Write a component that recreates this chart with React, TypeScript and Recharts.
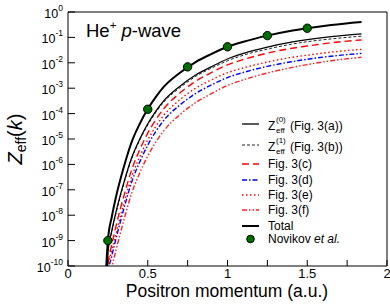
import React from 'react';
import { ComposedChart, Line, Scatter, XAxis, YAxis, Legend } from 'recharts';

const FONT = '"Liberation Sans", Arial, Helvetica, sans-serif';

// Positron momentum grid (a.u.)
const momentum = [0.235, 0.25, 0.275, 0.3, 0.35, 0.4, 0.45, 0.5, 0.55, 0.6, 0.7, 0.8, 0.9, 1.0, 1.1, 1.25, 1.4, 1.5, 1.65, 1.84];

// log10 Zeff(k)
const totalLog = [-10.6, -9.0, -8.05, -7.3, -6.1, -5.1, -4.4, -3.82, -3.35, -2.95, -2.4, -1.97, -1.65, -1.37, -1.17, -0.93, -0.74, -0.64, -0.51, -0.39];
const zeff0Log = [-11.1, -9.5, -8.6, -7.9, -6.72, -5.72, -5.0, -4.4, -3.91, -3.5, -2.93, -2.48, -2.15, -1.85, -1.63, -1.38, -1.19, -1.09, -0.97, -0.86];
const zeff1Log = [-11.15, -9.55, -8.65, -7.95, -6.77, -5.77, -5.05, -4.45, -3.96, -3.55, -2.99, -2.54, -2.21, -1.92, -1.7, -1.46, -1.27, -1.17, -1.06, -0.95];
const fig3cLog = [-11.6, -10.0, -9.15, -8.45, -7.25, -6.2, -5.42, -4.77, -4.25, -3.81, -3.2, -2.73, -2.38, -2.08, -1.87, -1.62, -1.43, -1.34, -1.21, -1.10];
const fig3dLog = [-12.0, -10.4, -9.6, -8.95, -7.75, -6.68, -5.9, -5.24, -4.71, -4.27, -3.67, -3.21, -2.87, -2.58, -2.38, -2.14, -1.96, -1.86, -1.74, -1.63];
const fig3eLog = [-11.8, -10.2, -9.4, -8.75, -7.55, -6.48, -5.7, -5.04, -4.51, -4.07, -3.46, -3.0, -2.67, -2.39, -2.2, -1.97, -1.79, -1.7, -1.58, -1.47];
const fig3fLog = [-12.4, -10.8, -10.05, -9.4, -8.2, -7.12, -6.33, -5.67, -5.13, -4.68, -4.05, -3.57, -3.21, -2.89, -2.67, -2.4, -2.19, -2.07, -1.92, -1.78];

// Novikov et al. points
const novikovK = [0.25, 0.5, 0.75, 1.0, 1.25, 1.5];
const novikovLog = [-9.0, -3.83, -2.16, -1.37, -0.93, -0.64];

const xTicks = [0, 0.25, 0.5, 0.75, 1, 1.25, 1.5, 1.75, 2];
const yMajorTicks = [1, 1e-1, 1e-2, 1e-3, 1e-4, 1e-5, 1e-6, 1e-7, 1e-8, 1e-9, 1e-10];
const yMinorTicks = [2e-1, 2e-2, 2e-3, 2e-4, 2e-5, 2e-6, 2e-7, 2e-8, 2e-9, 2e-10];

type SeriesDef = { key: string; stroke: string; width: number; dash?: string; values: number[] };

const seriesDefs: SeriesDef[] = [
  { key: 'f', stroke: '#ff2020', width: 1.4, dash: '5 2 1.5 2 1.5 2', values: fig3fLog },
  { key: 'd', stroke: '#0000ff', width: 1.4, dash: '5 2 1.5 2', values: fig3dLog },
  { key: 'e', stroke: '#ff0000', width: 1.4, dash: '1.5 2.5', values: fig3eLog },
  { key: 'c', stroke: '#ff0000', width: 1.4, dash: '7 4', values: fig3cLog },
  { key: 'z1', stroke: '#222222', width: 1, dash: '3 2', values: zeff1Log },
  { key: 'z0', stroke: '#000000', width: 1.3, values: zeff0Log },
  { key: 'total', stroke: '#000000', width: 2, values: totalLog },
];

const tableData = momentum.map((k, i) => {
  const row: Record<string, number> = { k };
  seriesDefs.forEach((s) => {
    row[s.key] = Math.pow(10, s.values[i]);
  });
  return row;
});

const novikovData = novikovK.map((k, i) => ({ k, v: Math.pow(10, novikovLog[i]) }));

const seriesByKey = (key: string) => seriesDefs.find((s) => s.key === key)!;

const legendRows = [
  { key: 'z0', y: 124, zeff: '(0)', text: '(Fig. 3(a))' },
  { key: 'z1', y: 145, zeff: '(1)', text: '(Fig. 3(b))' },
  { key: 'c', y: 164, text: 'Fig. 3(c)' },
  { key: 'd', y: 180, text: 'Fig. 3(d)' },
  { key: 'e', y: 195, text: 'Fig. 3(e)' },
  { key: 'f', y: 210, text: 'Fig. 3(f)' },
  { key: 'total', y: 226, text: 'Total' },
  { key: 'novikov', y: 239, text: 'Novikov' },
];

const LegendContent = () => (
  <svg width={390} height={305} style={{ position: 'absolute', left: 0, top: 0 }}>
    {legendRows.map((r) => {
      if (r.key === 'novikov') {
        return (
          <g key={r.key}>
            <circle cx={250.5} cy={r.y} r={3.8} fill="#006e00" stroke="#000" strokeWidth={1} />
            <text x={268} y={r.y + 4} fontSize={12} fontFamily={FONT} fill="#000">
              Novikov <tspan fontStyle="italic">et al.</tspan>
            </text>
          </g>
        );
      }
      const s = seriesByKey(r.key);
      return (
        <g key={r.key}>
          <line x1={242} x2={259} y1={r.y} y2={r.y} stroke={s.stroke} strokeWidth={s.width} strokeDasharray={s.dash} />
          {r.zeff ? (
            <text x={268} y={r.y + 6} fontSize={12} fontFamily={FONT} fill="#000">
              Z
              <tspan x={276} dy={3} fontSize={8}>eff</tspan>
              <tspan x={276} dy={-11} fontSize={8}>{r.zeff}</tspan>
              <tspan x={290} dy={8}>{r.text}</tspan>
            </text>
          ) : (
            <text x={268} y={r.y + 4} fontSize={12} fontFamily={FONT} fill="#000">
              {r.text}
            </text>
          )}
        </g>
      );
    })}
  </svg>
);

const YTick = (props: any) => {
  const { x, y, payload } = props;
  const exp = Math.round(Math.log10(payload.value));
  return (
    <text x={x} y={y + 6} textAnchor="end" fontSize={12.5} fontFamily={FONT} fill="#000">
      10
      <tspan fontSize={8.5} dy={-7}>{String(exp)}</tspan>
    </text>
  );
};

const xFormat = (v: number) => ((v * 2) % 1 === 0 ? String(v) : '');

export default function App() {
  return (
    <div style={{ position: 'absolute', left: 0, top: 0 }}>
      <ComposedChart
        width={390}
        height={305}
        data={tableData}
        margin={{ top: 11, right: 2, bottom: 0, left: 0 }}
        style={{ fontFamily: FONT }}
      >
        <XAxis
          xAxisId={0}
          dataKey="k"
          type="number"
          domain={[0, 2]}
          ticks={xTicks}
          interval={0}
          allowDataOverflow
          height={39}
          tickSize={-6}
          tickMargin={9}
          tickFormatter={xFormat}
          stroke="#000"
          tick={{ fontSize: 13, fill: '#000', fontFamily: FONT }}
        />
        <XAxis
          xAxisId="top"
          orientation="top"
          dataKey="k"
          type="number"
          domain={[0, 2]}
          ticks={xTicks}
          interval={0}
          allowDataOverflow
          height={1}
          tickSize={-6}
          tick={false}
          stroke="#000"
        />
        <YAxis
          yAxisId={0}
          type="number"
          scale="log"
          domain={[1e-10, 1]}
          allowDataOverflow
          ticks={yMajorTicks}
          interval={0}
          width={68}
          tickSize={-7}
          tickMargin={12}
          tick={<YTick />}
          stroke="#000"
        />
        <YAxis
          yAxisId="leftMinor"
          type="number"
          scale="log"
          domain={[1e-10, 1]}
          allowDataOverflow
          ticks={yMinorTicks}
          interval={0}
          mirror
          width={1}
          tickSize={4}
          tick={false}
          axisLine={false}
          stroke="#000"
        />
        <YAxis
          yAxisId="right"
          orientation="right"
          type="number"
          scale="log"
          domain={[1e-10, 1]}
          allowDataOverflow
          ticks={yMajorTicks}
          interval={0}
          width={1}
          tickSize={-7}
          tick={false}
          stroke="#000"
        />
        <YAxis
          yAxisId="rightMinor"
          orientation="right"
          type="number"
          scale="log"
          domain={[1e-10, 1]}
          allowDataOverflow
          ticks={yMinorTicks}
          interval={0}
          mirror
          width={1}
          tickSize={4}
          tick={false}
          axisLine={false}
          stroke="#000"
        />
        {seriesDefs.map((s) => (
          <Line
            key={s.key}
            dataKey={s.key}
            type="monotone"
            stroke={s.stroke}
            strokeWidth={s.width}
            strokeDasharray={s.dash}
            dot={false}
            activeDot={false}
            isAnimationActive={false}
          />
        ))}
        <Scatter
          data={novikovData}
          dataKey="v"
          isAnimationActive={false}
          shape={(p: any) => <circle cx={p.cx} cy={p.cy} r={4.2} fill="#006e00" stroke="#000" strokeWidth={1} />}
        />
        <Legend
          layout="vertical"
          align="center"
          verticalAlign="middle"
          content={() => <LegendContent />}
          wrapperStyle={{ left: 0, top: 0, width: 390, height: 305, pointerEvents: 'none' }}
        />
        <text x={86} y={37} fontSize={18.5} fontFamily={FONT} fill="#000">
          He<tspan fontSize={11.5} dy={-8}>+</tspan>
          <tspan dy={8}> </tspan>
          <tspan fontStyle="italic">p</tspan>-wave
        </text>
        <text
          x={22}
          y={139}
          transform="rotate(-90, 22, 139)"
          textAnchor="middle"
          fontSize={20}
          fontFamily={FONT}
          fill="#000"
        >
          <tspan fontStyle="italic">Z</tspan>
          <tspan fontSize={14} dy={4}>eff</tspan>
          <tspan dy={-4}>(</tspan>
          <tspan fontStyle="italic">k</tspan>)
        </text>
        <text x={227} y={297} textAnchor="middle" fontSize={17.5} fontFamily={FONT} fill="#000">
          Positron momentum (a.u.)
        </text>
      </ComposedChart>
    </div>
  );
}
